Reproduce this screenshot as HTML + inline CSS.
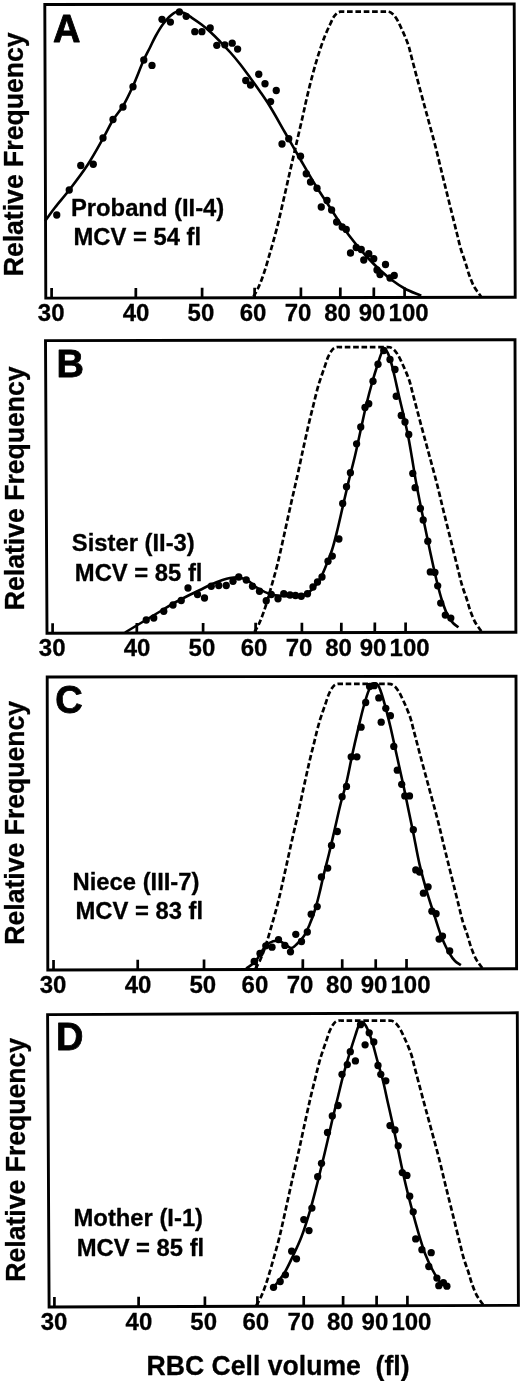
<!DOCTYPE html><html><head><meta charset="utf-8"><style>html,body{margin:0;padding:0;background:#fff;}svg{display:block;filter:grayscale(1);}text{font-family:"Liberation Sans",sans-serif;font-weight:bold;fill:#000;stroke:#000;stroke-width:0.3px;stroke-linejoin:round;white-space:pre;}</style></head><body>
<svg width="520" height="1381" viewBox="0 0 520 1381">
<rect width="520" height="1381" fill="#fff"/>
<g><polygon points="44.80,4.50 514.20,4.00 515.20,297.20 45.80,298.10" fill="none" stroke="#000" stroke-width="2.90" stroke-linejoin="miter"/><line x1="51.60" y1="298.09" x2="51.63" y2="288.09" stroke="#000" stroke-width="2.70"/><line x1="135.80" y1="297.93" x2="135.83" y2="287.93" stroke="#000" stroke-width="2.70"/><line x1="202.10" y1="297.80" x2="202.13" y2="287.80" stroke="#000" stroke-width="2.70"/><line x1="254.60" y1="297.70" x2="254.63" y2="287.70" stroke="#000" stroke-width="2.70"/><line x1="300.90" y1="297.61" x2="300.93" y2="287.61" stroke="#000" stroke-width="2.70"/><line x1="340.30" y1="297.54" x2="340.33" y2="287.54" stroke="#000" stroke-width="2.70"/><line x1="373.80" y1="297.47" x2="373.83" y2="287.47" stroke="#000" stroke-width="2.70"/><line x1="404.60" y1="297.41" x2="404.63" y2="287.41" stroke="#000" stroke-width="2.70"/><text x="51.20" y="321.00" font-size="24.00" text-anchor="middle">30</text><text x="136.10" y="321.00" font-size="24.00" text-anchor="middle">40</text><text x="200.90" y="321.00" font-size="24.00" text-anchor="middle">50</text><text x="253.00" y="321.00" font-size="24.00" text-anchor="middle">60</text><text x="298.10" y="321.00" font-size="24.00" text-anchor="middle">70</text><text x="337.50" y="321.00" font-size="24.00" text-anchor="middle">80</text><text x="372.10" y="321.00" font-size="24.00" text-anchor="middle">90</text><text x="408.60" y="321.00" font-size="24.00" text-anchor="middle">100</text><text transform="translate(22.60,154.40) rotate(-90) scale(1,1.040)" font-size="26.60" text-anchor="middle">Relative Frequency</text><text x="53.10" y="41.80" font-size="38.00" style="stroke-width:0.80px">A</text><text transform="translate(70.95,215.70) scale(1,1.040)" font-size="23.80" xml:space="preserve">Proband (II-4)</text><text transform="translate(73.55,245.40) scale(1,1.040)" font-size="23.80" xml:space="preserve">MCV = 54 fl</text><path d="M253.50,296.50 C254.83,294.13 256.14,292.23 257.50,289.40 C259.38,285.49 261.41,280.36 263.30,275.00 C265.60,268.46 267.81,260.44 270.00,252.90 C272.28,245.05 274.54,237.21 276.70,228.80 C279.05,219.65 281.25,209.70 283.50,200.00 C285.79,190.11 288.03,179.91 290.30,170.00 C292.53,160.25 294.85,150.31 297.00,141.00 C299.00,132.36 301.16,123.28 302.80,116.00 C304.07,110.37 304.85,106.41 306.10,101.00 C307.59,94.58 309.34,87.10 311.20,80.00 C313.13,72.61 315.24,64.79 317.50,57.50 C319.68,50.48 322.12,43.08 324.50,37.00 C326.47,31.98 328.73,27.25 330.50,23.50 C331.79,20.77 332.68,18.39 334.00,16.50 C335.07,14.98 336.28,13.60 337.50,12.80 C338.47,12.16 339.33,11.92 340.50,11.70 C342.04,11.41 343.94,11.62 346.00,11.60 C348.63,11.58 351.92,11.60 355.00,11.60 C358.25,11.60 361.67,11.60 365.00,11.60 C368.33,11.60 371.75,11.60 375.00,11.60 C378.08,11.60 381.44,11.55 384.00,11.60 C385.91,11.64 387.48,11.35 389.00,11.80 C390.47,12.24 391.77,13.09 393.00,14.20 C394.47,15.52 395.75,17.49 397.00,19.50 C398.45,21.84 399.71,24.78 401.00,27.50 C402.31,30.28 403.58,33.07 404.80,36.00 C406.08,39.06 407.41,42.15 408.50,45.50 C409.67,49.12 410.24,52.18 411.50,57.00 C413.64,65.17 417.38,79.46 420.20,90.00 C422.80,99.72 425.26,108.58 427.80,118.00 C430.39,127.58 433.14,137.40 435.60,147.00 C438.01,156.40 440.09,165.59 442.40,175.00 C444.75,184.58 447.20,194.33 449.60,204.00 C452.00,213.67 454.70,224.62 456.80,233.00 C458.41,239.42 459.55,244.80 461.10,250.00 C462.45,254.52 464.05,258.32 465.40,262.50 C466.75,266.65 467.75,270.96 469.20,275.00 C470.62,278.95 472.31,283.35 474.00,286.50 C475.28,288.90 476.74,290.72 478.00,292.50 C479.05,293.98 480.00,295.17 481.00,296.50" fill="none" stroke="#000" stroke-width="2.70" stroke-dasharray="5.6 2.7"/><path d="M45.00,221.00 C48.33,216.50 51.31,212.25 55.00,207.50 C59.27,202.00 64.30,196.42 69.25,190.00 C75.05,182.48 81.87,173.60 87.50,165.00 C93.11,156.43 98.46,146.58 103.00,138.50 C106.76,131.82 109.48,125.64 113.00,120.00 C116.18,114.90 119.86,111.22 123.00,106.00 C126.58,100.05 129.73,93.17 133.00,86.00 C136.67,77.96 140.53,67.05 143.75,60.00 C146.02,55.03 148.00,51.54 150.00,47.50 C151.87,43.72 153.34,40.23 155.40,36.50 C157.65,32.41 160.36,27.67 163.10,24.00 C165.53,20.74 168.15,17.56 170.80,15.40 C172.97,13.63 175.19,11.86 177.50,11.50 C179.67,11.16 181.97,12.09 184.20,13.00 C186.77,14.05 189.22,16.03 191.90,17.80 C194.95,19.81 198.35,22.08 201.50,24.50 C204.78,27.03 208.03,29.79 211.20,32.70 C214.47,35.71 217.62,39.03 220.80,42.30 C224.03,45.62 227.25,48.95 230.40,52.50 C233.66,56.17 236.83,59.96 240.00,64.00 C243.36,68.27 246.69,72.94 250.00,77.50 C253.35,82.11 256.70,86.73 260.00,91.50 C263.37,96.39 266.43,100.75 270.00,106.50 C274.61,113.92 280.01,123.81 285.00,132.50 C290.01,141.22 294.98,150.05 300.00,158.75 C304.98,167.39 309.89,176.22 315.00,184.50 C319.90,192.45 325.22,200.20 330.00,207.50 C334.35,214.14 338.23,220.46 342.50,226.50 C346.57,232.26 350.75,237.74 355.00,243.00 C359.09,248.06 363.25,252.92 367.50,257.50 C371.59,261.90 375.75,266.10 380.00,270.00 C384.09,273.75 388.24,277.32 392.50,280.50 C396.58,283.54 400.44,286.28 405.00,288.75 C409.96,291.43 415.83,293.45 421.25,295.80" fill="none" stroke="#000" stroke-width="2.60" stroke-linejoin="round"/><circle cx="56.75" cy="215.00" r="3.65"/><circle cx="69.25" cy="190.00" r="3.65"/><circle cx="80.75" cy="165.50" r="3.65"/><circle cx="93.25" cy="164.25" r="3.65"/><circle cx="103.00" cy="138.00" r="3.65"/><circle cx="113.00" cy="119.50" r="3.65"/><circle cx="123.00" cy="107.00" r="3.65"/><circle cx="133.00" cy="86.75" r="3.65"/><circle cx="143.80" cy="60.00" r="3.65"/><circle cx="152.00" cy="65.40" r="3.65"/><circle cx="162.00" cy="19.30" r="3.65"/><circle cx="170.40" cy="22.10" r="3.65"/><circle cx="179.40" cy="11.90" r="3.65"/><circle cx="186.20" cy="16.30" r="3.65"/><circle cx="194.80" cy="31.70" r="3.65"/><circle cx="201.90" cy="31.70" r="3.65"/><circle cx="210.20" cy="27.90" r="3.65"/><circle cx="216.80" cy="45.30" r="3.65"/><circle cx="224.80" cy="44.80" r="3.65"/><circle cx="232.20" cy="43.20" r="3.65"/><circle cx="237.60" cy="49.10" r="3.65"/><circle cx="245.75" cy="80.50" r="3.65"/><circle cx="250.50" cy="85.00" r="3.65"/><circle cx="258.75" cy="74.25" r="3.65"/><circle cx="265.00" cy="83.75" r="3.65"/><circle cx="276.25" cy="90.50" r="3.65"/><circle cx="270.60" cy="101.60" r="3.65"/><circle cx="282.00" cy="144.00" r="3.65"/><circle cx="288.75" cy="138.75" r="3.65"/><circle cx="300.50" cy="156.25" r="3.65"/><circle cx="306.25" cy="173.75" r="3.65"/><circle cx="310.50" cy="182.00" r="3.65"/><circle cx="317.00" cy="188.25" r="3.65"/><circle cx="327.00" cy="200.50" r="3.65"/><circle cx="321.25" cy="207.00" r="3.65"/><circle cx="331.60" cy="210.00" r="3.65"/><circle cx="336.60" cy="222.00" r="3.65"/><circle cx="342.20" cy="227.00" r="3.65"/><circle cx="346.25" cy="229.40" r="3.65"/><circle cx="350.50" cy="253.00" r="3.65"/><circle cx="356.25" cy="247.50" r="3.65"/><circle cx="361.25" cy="249.50" r="3.65"/><circle cx="368.75" cy="253.75" r="3.65"/><circle cx="363.75" cy="260.00" r="3.65"/><circle cx="373.75" cy="258.75" r="3.65"/><circle cx="377.00" cy="270.00" r="3.65"/><circle cx="380.00" cy="274.50" r="3.65"/><circle cx="385.50" cy="264.50" r="3.65"/><circle cx="390.00" cy="278.00" r="3.65"/><circle cx="394.25" cy="275.50" r="3.65"/></g>
<g><polygon points="45.50,340.60 515.00,339.80 515.90,632.30 47.00,633.20" fill="none" stroke="#000" stroke-width="2.90" stroke-linejoin="miter"/><line x1="52.60" y1="633.19" x2="52.63" y2="623.19" stroke="#000" stroke-width="2.70"/><line x1="136.80" y1="633.03" x2="136.83" y2="623.03" stroke="#000" stroke-width="2.70"/><line x1="203.10" y1="632.90" x2="203.13" y2="622.90" stroke="#000" stroke-width="2.70"/><line x1="255.60" y1="632.80" x2="255.63" y2="622.80" stroke="#000" stroke-width="2.70"/><line x1="301.90" y1="632.71" x2="301.93" y2="622.71" stroke="#000" stroke-width="2.70"/><line x1="341.30" y1="632.64" x2="341.33" y2="622.64" stroke="#000" stroke-width="2.70"/><line x1="374.80" y1="632.57" x2="374.83" y2="622.57" stroke="#000" stroke-width="2.70"/><line x1="405.60" y1="632.51" x2="405.63" y2="622.51" stroke="#000" stroke-width="2.70"/><text x="52.20" y="656.00" font-size="24.00" text-anchor="middle">30</text><text x="137.10" y="656.00" font-size="24.00" text-anchor="middle">40</text><text x="201.90" y="656.00" font-size="24.00" text-anchor="middle">50</text><text x="254.00" y="656.00" font-size="24.00" text-anchor="middle">60</text><text x="299.10" y="656.00" font-size="24.00" text-anchor="middle">70</text><text x="338.50" y="656.00" font-size="24.00" text-anchor="middle">80</text><text x="373.10" y="656.00" font-size="24.00" text-anchor="middle">90</text><text x="409.60" y="656.00" font-size="24.00" text-anchor="middle">100</text><text transform="translate(23.50,488.30) rotate(-90) scale(1,1.040)" font-size="26.60" text-anchor="middle">Relative Frequency</text><text x="56.60" y="377.10" font-size="38.00" style="stroke-width:0.80px">B</text><text transform="translate(71.80,551.00) scale(1,1.040)" font-size="23.80" xml:space="preserve">Sister (II-3)</text><text transform="translate(74.85,580.80) scale(1,1.040)" font-size="23.80" xml:space="preserve">MCV = 85 fl</text><path d="M254.50,632.00 C255.83,629.63 257.15,627.74 258.50,624.90 C260.36,620.99 262.34,615.85 264.20,610.50 C266.46,603.98 268.64,596.01 270.80,588.50 C273.05,580.69 275.29,572.90 277.40,564.50 C279.71,555.31 281.82,545.25 284.00,535.50 C286.22,525.59 288.38,515.41 290.60,505.50 C292.78,495.75 295.13,485.81 297.20,476.50 C299.12,467.86 301.03,458.70 302.60,451.50 C303.80,446.01 304.85,441.25 305.80,437.00 C306.54,433.67 307.08,431.23 307.80,428.10 C308.60,424.60 309.49,420.73 310.40,417.00 C311.32,413.20 312.35,409.34 313.30,405.50 C314.25,401.67 315.13,397.75 316.10,394.00 C317.03,390.39 317.99,386.75 319.00,383.40 C319.93,380.34 320.91,377.59 321.90,374.70 C322.88,371.82 323.90,368.98 324.90,366.10 C325.90,363.21 326.78,359.98 327.90,357.40 C328.85,355.20 329.87,353.14 331.00,351.50 C331.93,350.15 332.89,348.83 334.00,348.10 C334.92,347.49 335.91,347.28 337.00,347.10 C338.22,346.90 339.53,347.10 341.00,347.10 C342.80,347.10 344.80,347.10 347.00,347.10 C349.70,347.10 352.92,347.10 356.00,347.10 C359.25,347.10 362.67,347.10 366.00,347.10 C369.33,347.10 372.75,347.10 376.00,347.10 C379.08,347.10 382.44,347.05 385.00,347.10 C386.91,347.14 388.48,346.85 390.00,347.30 C391.47,347.74 392.77,348.59 394.00,349.70 C395.47,351.02 396.75,352.99 398.00,355.00 C399.45,357.34 400.71,360.28 402.00,363.00 C403.31,365.78 404.58,368.57 405.80,371.50 C407.08,374.56 408.41,377.65 409.50,381.00 C410.67,384.62 411.24,387.68 412.50,392.50 C414.64,400.67 418.38,414.96 421.20,425.50 C423.80,435.22 426.26,444.08 428.80,453.50 C431.39,463.08 434.14,472.90 436.60,482.50 C439.01,491.90 441.09,501.09 443.40,510.50 C445.75,520.08 448.20,529.83 450.60,539.50 C453.00,549.17 455.70,560.12 457.80,568.50 C459.41,574.92 460.55,580.30 462.10,585.50 C463.45,590.02 465.05,593.82 466.40,598.00 C467.75,602.15 468.75,606.46 470.20,610.50 C471.62,614.45 473.31,618.85 475.00,622.00 C476.28,624.40 477.74,626.22 479.00,628.00 C480.05,629.48 481.00,630.67 482.00,632.00" fill="none" stroke="#000" stroke-width="2.70" stroke-dasharray="5.6 2.7"/><path d="M125.00,632.50 C129.17,630.00 133.33,627.50 137.50,625.00 C141.67,622.50 145.83,620.00 150.00,617.50 C154.17,615.00 158.33,612.50 162.50,610.00 C166.67,607.50 170.80,604.85 175.00,602.50 C179.13,600.19 183.32,598.09 187.50,596.00 C191.65,593.93 196.07,591.92 200.00,590.00 C203.53,588.27 206.45,586.60 210.00,585.00 C213.90,583.25 218.83,581.22 222.50,580.00 C225.29,579.07 227.38,578.42 230.00,578.00 C232.78,577.55 235.87,577.10 238.75,577.50 C241.71,577.91 244.61,578.97 247.50,580.50 C250.86,582.28 253.86,585.79 257.50,588.00 C261.33,590.32 265.73,592.67 270.00,594.00 C274.08,595.27 278.32,595.67 282.50,596.00 C286.65,596.33 291.08,596.29 295.00,596.00 C298.53,595.74 302.08,595.68 305.00,594.50 C307.69,593.41 309.88,591.51 312.00,589.50 C314.24,587.38 316.24,584.62 318.00,582.00 C319.72,579.44 321.05,576.98 322.50,574.00 C324.23,570.45 325.91,566.01 327.50,562.00 C329.08,558.01 330.57,554.45 332.00,550.00 C333.73,544.62 335.26,538.44 336.90,531.90 C338.82,524.25 340.77,515.23 342.70,506.90 C344.63,498.57 346.46,490.38 348.50,481.90 C350.62,473.09 353.08,464.03 355.20,455.00 C357.33,445.90 359.32,436.21 361.25,427.50 C362.99,419.62 364.41,412.58 366.25,405.00 C368.15,397.17 370.46,388.40 372.50,381.25 C374.20,375.30 375.83,370.10 377.50,365.00 C379.00,360.41 380.48,354.81 382.00,352.00 C382.83,350.46 383.62,348.76 384.50,348.75 C385.45,348.74 386.58,350.87 387.50,352.50 C388.84,354.87 389.92,358.50 391.00,362.00 C392.29,366.18 393.31,370.97 394.50,376.00 C395.88,381.84 397.25,388.51 398.75,395.00 C400.33,401.83 402.14,408.91 403.75,416.00 C405.39,423.24 407.10,430.83 408.50,438.00 C409.83,444.81 410.81,451.03 412.00,458.00 C413.30,465.63 414.57,474.10 416.00,482.00 C417.41,489.76 418.98,497.42 420.50,505.00 C421.98,512.42 423.45,519.51 425.00,527.00 C426.62,534.83 428.23,542.77 430.00,551.00 C431.88,559.74 433.88,569.33 436.00,578.00 C437.99,586.13 439.98,594.54 442.30,601.50 C444.22,607.27 446.25,613.05 448.50,617.00 C450.08,619.77 451.71,621.72 453.50,623.50 C455.07,625.06 456.83,626.03 458.50,627.30" fill="none" stroke="#000" stroke-width="2.60" stroke-linejoin="round"/><circle cx="146.25" cy="620.00" r="3.65"/><circle cx="153.75" cy="618.00" r="3.65"/><circle cx="163.75" cy="611.25" r="3.65"/><circle cx="173.00" cy="605.00" r="3.65"/><circle cx="181.25" cy="600.50" r="3.65"/><circle cx="188.00" cy="588.00" r="3.65"/><circle cx="197.50" cy="594.50" r="3.65"/><circle cx="204.50" cy="598.00" r="3.65"/><circle cx="211.25" cy="586.25" r="3.65"/><circle cx="218.75" cy="585.50" r="3.65"/><circle cx="226.25" cy="585.50" r="3.65"/><circle cx="233.00" cy="581.25" r="3.65"/><circle cx="238.75" cy="577.00" r="3.65"/><circle cx="246.25" cy="580.00" r="3.65"/><circle cx="252.50" cy="586.25" r="3.65"/><circle cx="259.50" cy="591.25" r="3.65"/><circle cx="266.25" cy="600.75" r="3.65"/><circle cx="271.25" cy="594.50" r="3.65"/><circle cx="278.00" cy="598.75" r="3.65"/><circle cx="283.75" cy="593.75" r="3.65"/><circle cx="290.00" cy="595.00" r="3.65"/><circle cx="295.50" cy="595.50" r="3.65"/><circle cx="301.25" cy="596.25" r="3.65"/><circle cx="307.50" cy="593.75" r="3.65"/><circle cx="313.00" cy="587.00" r="3.65"/><circle cx="317.50" cy="582.00" r="3.65"/><circle cx="322.00" cy="577.00" r="3.65"/><circle cx="328.00" cy="561.25" r="3.65"/><circle cx="332.30" cy="556.10" r="3.65"/><circle cx="338.90" cy="539.00" r="3.65"/><circle cx="342.70" cy="503.50" r="3.65"/><circle cx="346.50" cy="486.70" r="3.65"/><circle cx="350.40" cy="472.70" r="3.65"/><circle cx="356.60" cy="443.80" r="3.65"/><circle cx="360.75" cy="427.00" r="3.65"/><circle cx="365.00" cy="407.50" r="3.65"/><circle cx="368.75" cy="403.75" r="3.65"/><circle cx="373.00" cy="381.25" r="3.65"/><circle cx="378.00" cy="364.25" r="3.65"/><circle cx="383.75" cy="350.50" r="3.65"/><circle cx="390.00" cy="359.50" r="3.65"/><circle cx="395.00" cy="369.50" r="3.65"/><circle cx="396.25" cy="396.25" r="3.65"/><circle cx="401.25" cy="415.50" r="3.65"/><circle cx="405.00" cy="422.00" r="3.65"/><circle cx="408.75" cy="434.50" r="3.65"/><circle cx="412.80" cy="473.40" r="3.65"/><circle cx="415.10" cy="487.70" r="3.65"/><circle cx="420.40" cy="508.50" r="3.65"/><circle cx="423.20" cy="520.00" r="3.65"/><circle cx="427.80" cy="541.20" r="3.65"/><circle cx="430.30" cy="571.90" r="3.65"/><circle cx="434.90" cy="572.40" r="3.65"/><circle cx="437.70" cy="585.80" r="3.65"/><circle cx="440.70" cy="603.10" r="3.65"/><circle cx="445.30" cy="615.10" r="3.65"/><circle cx="450.80" cy="618.10" r="3.65"/></g>
<g><polygon points="47.20,677.00 516.00,676.20 516.60,968.80 47.80,970.00" fill="none" stroke="#000" stroke-width="2.90" stroke-linejoin="miter"/><line x1="53.50" y1="969.99" x2="53.53" y2="959.99" stroke="#000" stroke-width="2.70"/><line x1="137.70" y1="969.77" x2="137.73" y2="959.77" stroke="#000" stroke-width="2.70"/><line x1="204.00" y1="969.60" x2="204.03" y2="959.60" stroke="#000" stroke-width="2.70"/><line x1="256.50" y1="969.47" x2="256.53" y2="959.47" stroke="#000" stroke-width="2.70"/><line x1="302.80" y1="969.35" x2="302.83" y2="959.35" stroke="#000" stroke-width="2.70"/><line x1="342.20" y1="969.25" x2="342.23" y2="959.25" stroke="#000" stroke-width="2.70"/><line x1="375.70" y1="969.16" x2="375.73" y2="959.16" stroke="#000" stroke-width="2.70"/><line x1="406.50" y1="969.08" x2="406.53" y2="959.08" stroke="#000" stroke-width="2.70"/><text x="53.10" y="993.20" font-size="24.00" text-anchor="middle">30</text><text x="138.00" y="993.20" font-size="24.00" text-anchor="middle">40</text><text x="202.80" y="993.20" font-size="24.00" text-anchor="middle">50</text><text x="254.90" y="993.20" font-size="24.00" text-anchor="middle">60</text><text x="300.00" y="993.20" font-size="24.00" text-anchor="middle">70</text><text x="339.40" y="993.20" font-size="24.00" text-anchor="middle">80</text><text x="374.00" y="993.20" font-size="24.00" text-anchor="middle">90</text><text x="410.50" y="993.20" font-size="24.00" text-anchor="middle">100</text><text transform="translate(24.00,822.80) rotate(-90) scale(1,1.040)" font-size="26.60" text-anchor="middle">Relative Frequency</text><text x="55.20" y="712.60" font-size="38.00" style="stroke-width:0.80px">C</text><text transform="translate(72.55,890.00) scale(1,1.040)" font-size="23.80" xml:space="preserve">Niece (III-7)</text><text transform="translate(75.45,919.00) scale(1,1.040)" font-size="23.80" xml:space="preserve">MCV = 83 fl</text><path d="M255.40,968.80 C256.73,966.43 258.05,964.54 259.40,961.70 C261.26,957.79 263.24,952.65 265.10,947.30 C267.36,940.78 269.54,932.81 271.70,925.30 C273.95,917.49 276.19,909.70 278.30,901.30 C280.61,892.11 282.72,882.05 284.90,872.30 C287.12,862.39 289.28,852.21 291.50,842.30 C293.68,832.55 296.03,822.61 298.10,813.30 C300.02,804.66 301.93,795.50 303.50,788.30 C304.70,782.81 305.75,778.05 306.70,773.80 C307.44,770.47 307.98,768.03 308.70,764.90 C309.50,761.40 310.39,757.53 311.30,753.80 C312.22,750.00 313.25,746.14 314.20,742.30 C315.15,738.47 316.03,734.55 317.00,730.80 C317.93,727.19 318.89,723.55 319.90,720.20 C320.83,717.14 321.81,714.39 322.80,711.50 C323.78,708.62 324.80,705.78 325.80,702.90 C326.80,700.01 327.68,696.78 328.80,694.20 C329.75,692.00 330.77,689.94 331.90,688.30 C332.83,686.95 333.79,685.63 334.90,684.90 C335.82,684.29 336.81,684.08 337.90,683.90 C339.12,683.70 340.43,683.90 341.90,683.90 C343.70,683.90 345.70,683.90 347.90,683.90 C350.60,683.90 353.82,683.90 356.90,683.90 C360.15,683.90 363.57,683.90 366.90,683.90 C370.23,683.90 373.65,683.90 376.90,683.90 C379.98,683.90 383.34,683.85 385.90,683.90 C387.81,683.94 389.38,683.65 390.90,684.10 C392.37,684.54 393.67,685.39 394.90,686.50 C396.37,687.82 397.65,689.79 398.90,691.80 C400.35,694.14 401.61,697.08 402.90,699.80 C404.21,702.58 405.48,705.37 406.70,708.30 C407.98,711.36 409.31,714.45 410.40,717.80 C411.57,721.42 412.14,724.48 413.40,729.30 C415.54,737.47 419.28,751.76 422.10,762.30 C424.70,772.02 427.16,780.88 429.70,790.30 C432.29,799.88 435.04,809.70 437.50,819.30 C439.91,828.70 441.99,837.89 444.30,847.30 C446.65,856.88 449.10,866.63 451.50,876.30 C453.90,885.97 456.60,896.92 458.70,905.30 C460.31,911.72 461.45,917.10 463.00,922.30 C464.35,926.82 465.95,930.62 467.30,934.80 C468.65,938.95 469.65,943.26 471.10,947.30 C472.52,951.25 474.21,955.65 475.90,958.80 C477.18,961.20 478.64,963.02 479.90,964.80 C480.95,966.28 481.90,967.47 482.90,968.80" fill="none" stroke="#000" stroke-width="2.70" stroke-dasharray="5.6 2.7"/><path d="M246.20,968.50 C249.27,966.17 252.77,964.38 255.40,961.50 C258.19,958.45 259.84,953.72 262.30,950.50 C264.48,947.65 266.44,944.61 269.20,943.00 C271.87,941.44 275.69,940.43 278.50,940.80 C281.04,941.13 283.21,943.26 285.40,944.50 C287.43,945.66 289.30,948.07 291.20,948.00 C293.13,947.93 295.01,945.69 296.90,944.00 C299.21,941.93 301.77,939.21 303.80,936.20 C306.07,932.84 307.78,928.84 309.60,924.60 C311.69,919.73 313.73,913.85 315.40,908.50 C317.01,903.32 318.19,898.33 319.50,893.00 C320.89,887.36 322.01,881.69 323.50,875.50 C325.20,868.46 327.33,860.71 329.20,853.00 C331.17,844.90 333.07,836.33 335.00,828.00 C336.93,819.67 338.79,810.93 340.80,803.00 C342.64,795.73 344.70,789.66 346.50,782.20 C348.56,773.66 350.33,763.52 352.30,754.50 C354.19,745.84 356.14,737.36 358.10,729.10 C359.97,721.21 361.81,712.96 363.80,706.00 C365.47,700.15 367.18,693.86 369.00,690.00 C370.13,687.60 371.19,685.56 372.50,684.50 C373.40,683.77 374.48,683.31 375.40,683.40 C376.31,683.49 377.22,684.10 378.00,685.00 C379.23,686.42 379.97,689.14 381.00,692.00 C382.54,696.27 384.27,702.68 385.80,708.30 C387.42,714.25 388.91,720.45 390.40,726.80 C391.98,733.50 393.47,740.59 395.00,747.50 C396.54,754.42 398.07,761.37 399.60,768.30 C401.13,775.23 402.72,782.15 404.20,789.10 C405.68,796.05 407.02,802.88 408.50,810.00 C410.05,817.46 411.61,824.64 413.30,832.90 C415.28,842.60 417.23,854.45 419.60,864.60 C421.83,874.13 424.43,883.34 427.00,892.10 C429.38,900.22 431.90,907.75 434.40,915.40 C436.84,922.87 439.11,930.86 441.80,937.50 C444.11,943.20 446.69,948.77 449.20,953.00 C451.11,956.21 452.87,958.91 455.00,961.00 C456.82,962.78 458.93,963.73 460.90,965.10" fill="none" stroke="#000" stroke-width="2.60" stroke-linejoin="round"/><circle cx="254.20" cy="961.50" r="3.65"/><circle cx="260.00" cy="953.50" r="3.65"/><circle cx="265.80" cy="945.80" r="3.65"/><circle cx="272.00" cy="947.20" r="3.65"/><circle cx="278.50" cy="939.60" r="3.65"/><circle cx="284.90" cy="945.40" r="3.65"/><circle cx="290.50" cy="951.80" r="3.65"/><circle cx="295.80" cy="934.30" r="3.65"/><circle cx="301.50" cy="941.50" r="3.65"/><circle cx="307.30" cy="932.00" r="3.65"/><circle cx="311.20" cy="914.20" r="3.65"/><circle cx="317.20" cy="906.60" r="3.65"/><circle cx="321.40" cy="877.00" r="3.65"/><circle cx="327.70" cy="868.10" r="3.65"/><circle cx="331.50" cy="845.40" r="3.65"/><circle cx="337.30" cy="831.50" r="3.65"/><circle cx="342.10" cy="796.70" r="3.65"/><circle cx="346.50" cy="786.40" r="3.65"/><circle cx="351.20" cy="756.80" r="3.65"/><circle cx="356.90" cy="756.80" r="3.65"/><circle cx="361.10" cy="727.20" r="3.65"/><circle cx="365.70" cy="702.50" r="3.65"/><circle cx="369.60" cy="686.40" r="3.65"/><circle cx="374.20" cy="685.70" r="3.65"/><circle cx="378.80" cy="697.90" r="3.65"/><circle cx="381.20" cy="722.20" r="3.65"/><circle cx="385.80" cy="708.30" r="3.65"/><circle cx="390.40" cy="715.70" r="3.65"/><circle cx="393.80" cy="746.40" r="3.65"/><circle cx="397.30" cy="770.20" r="3.65"/><circle cx="401.70" cy="784.30" r="3.65"/><circle cx="404.80" cy="795.90" r="3.65"/><circle cx="409.50" cy="795.90" r="3.65"/><circle cx="413.30" cy="829.70" r="3.65"/><circle cx="415.80" cy="869.90" r="3.65"/><circle cx="419.60" cy="872.00" r="3.65"/><circle cx="428.10" cy="886.80" r="3.65"/><circle cx="423.40" cy="893.20" r="3.65"/><circle cx="431.90" cy="911.20" r="3.65"/><circle cx="436.10" cy="913.70" r="3.65"/><circle cx="439.10" cy="939.10" r="3.65"/><circle cx="442.50" cy="936.10" r="3.65"/><circle cx="449.70" cy="950.90" r="3.65"/></g>
<g><polygon points="47.60,1014.60 517.30,1012.80 518.40,1305.30 49.10,1307.00" fill="none" stroke="#000" stroke-width="2.90" stroke-linejoin="miter"/><line x1="54.40" y1="1306.98" x2="54.43" y2="1296.98" stroke="#000" stroke-width="2.70"/><line x1="138.60" y1="1306.68" x2="138.63" y2="1296.68" stroke="#000" stroke-width="2.70"/><line x1="204.90" y1="1306.44" x2="204.93" y2="1296.44" stroke="#000" stroke-width="2.70"/><line x1="257.40" y1="1306.25" x2="257.43" y2="1296.25" stroke="#000" stroke-width="2.70"/><line x1="303.70" y1="1306.08" x2="303.73" y2="1296.08" stroke="#000" stroke-width="2.70"/><line x1="343.10" y1="1305.94" x2="343.13" y2="1295.94" stroke="#000" stroke-width="2.70"/><line x1="376.60" y1="1305.81" x2="376.63" y2="1295.81" stroke="#000" stroke-width="2.70"/><line x1="407.40" y1="1305.70" x2="407.43" y2="1295.70" stroke="#000" stroke-width="2.70"/><text x="54.00" y="1330.40" font-size="24.00" text-anchor="middle">30</text><text x="138.90" y="1330.40" font-size="24.00" text-anchor="middle">40</text><text x="203.70" y="1330.40" font-size="24.00" text-anchor="middle">50</text><text x="255.80" y="1330.40" font-size="24.00" text-anchor="middle">60</text><text x="300.90" y="1330.40" font-size="24.00" text-anchor="middle">70</text><text x="340.30" y="1330.40" font-size="24.00" text-anchor="middle">80</text><text x="374.90" y="1330.40" font-size="24.00" text-anchor="middle">90</text><text x="411.40" y="1330.40" font-size="24.00" text-anchor="middle">100</text><text transform="translate(25.40,1159.80) rotate(-90) scale(1,1.040)" font-size="26.60" text-anchor="middle">Relative Frequency</text><text x="56.00" y="1050.10" font-size="38.00" style="stroke-width:0.80px">D</text><text transform="translate(73.55,1225.70) scale(1,1.040)" font-size="23.80" xml:space="preserve">Mother (I-1)</text><text transform="translate(76.65,1255.50) scale(1,1.040)" font-size="23.80" xml:space="preserve">MCV = 85 fl</text><path d="M256.30,1305.50 C257.63,1303.13 258.95,1301.24 260.30,1298.40 C262.16,1294.49 264.14,1289.35 266.00,1284.00 C268.26,1277.48 270.44,1269.51 272.60,1262.00 C274.85,1254.19 277.09,1246.40 279.20,1238.00 C281.51,1228.81 283.62,1218.75 285.80,1209.00 C288.02,1199.09 290.18,1188.91 292.40,1179.00 C294.58,1169.25 296.93,1159.31 299.00,1150.00 C300.92,1141.36 302.83,1132.20 304.40,1125.00 C305.60,1119.51 306.65,1114.75 307.60,1110.50 C308.34,1107.17 308.88,1104.73 309.60,1101.60 C310.40,1098.10 311.29,1094.23 312.20,1090.50 C313.12,1086.70 314.15,1082.84 315.10,1079.00 C316.05,1075.17 316.93,1071.25 317.90,1067.50 C318.83,1063.89 319.79,1060.25 320.80,1056.90 C321.73,1053.84 322.71,1051.09 323.70,1048.20 C324.68,1045.32 325.70,1042.48 326.70,1039.60 C327.70,1036.71 328.58,1033.48 329.70,1030.90 C330.65,1028.70 331.67,1026.64 332.80,1025.00 C333.73,1023.65 334.69,1022.33 335.80,1021.60 C336.72,1020.99 337.71,1020.78 338.80,1020.60 C340.02,1020.40 341.33,1020.60 342.80,1020.60 C344.60,1020.60 346.60,1020.60 348.80,1020.60 C351.50,1020.60 354.72,1020.60 357.80,1020.60 C361.05,1020.60 364.47,1020.60 367.80,1020.60 C371.13,1020.60 374.55,1020.60 377.80,1020.60 C380.88,1020.60 384.24,1020.55 386.80,1020.60 C388.71,1020.64 390.28,1020.35 391.80,1020.80 C393.27,1021.24 394.57,1022.09 395.80,1023.20 C397.27,1024.52 398.55,1026.49 399.80,1028.50 C401.25,1030.84 402.51,1033.78 403.80,1036.50 C405.11,1039.28 406.38,1042.07 407.60,1045.00 C408.88,1048.06 410.21,1051.15 411.30,1054.50 C412.47,1058.12 413.04,1061.18 414.30,1066.00 C416.44,1074.17 420.18,1088.46 423.00,1099.00 C425.60,1108.72 428.06,1117.58 430.60,1127.00 C433.19,1136.58 435.94,1146.40 438.40,1156.00 C440.81,1165.40 442.89,1174.59 445.20,1184.00 C447.55,1193.58 450.00,1203.33 452.40,1213.00 C454.80,1222.67 457.50,1233.62 459.60,1242.00 C461.21,1248.42 462.35,1253.80 463.90,1259.00 C465.25,1263.52 466.85,1267.32 468.20,1271.50 C469.55,1275.65 470.55,1279.96 472.00,1284.00 C473.42,1287.95 475.11,1292.35 476.80,1295.50 C478.08,1297.90 479.54,1299.72 480.80,1301.50 C481.85,1302.98 482.80,1304.17 483.80,1305.50" fill="none" stroke="#000" stroke-width="2.70" stroke-dasharray="5.6 2.7"/><path d="M273.50,1287.30 C275.10,1285.37 276.62,1283.71 278.30,1281.50 C280.40,1278.74 282.82,1275.57 285.00,1271.90 C287.64,1267.45 290.12,1261.95 292.70,1256.50 C295.55,1250.48 298.67,1244.06 301.30,1237.30 C304.13,1230.02 306.62,1222.09 309.00,1214.20 C311.46,1206.07 313.68,1197.37 315.80,1189.20 C317.83,1181.39 319.59,1174.05 321.50,1166.20 C323.49,1158.00 325.61,1149.12 327.50,1141.00 C329.26,1133.42 330.75,1126.39 332.50,1119.00 C334.28,1111.46 336.22,1103.82 338.10,1096.20 C339.99,1088.55 341.81,1080.55 343.80,1073.20 C345.65,1066.36 347.64,1059.95 349.60,1053.50 C351.50,1047.25 353.74,1040.16 355.40,1035.10 C356.57,1031.53 357.48,1028.31 358.50,1026.00 C359.17,1024.49 359.67,1023.01 360.50,1022.40 C361.09,1021.97 361.82,1021.77 362.50,1022.00 C363.57,1022.36 364.70,1024.01 365.80,1025.80 C367.70,1028.88 369.73,1034.54 371.50,1039.70 C373.62,1045.88 375.36,1053.58 377.30,1060.50 C379.23,1067.41 381.36,1074.27 383.10,1081.20 C384.83,1088.10 386.18,1095.23 387.70,1102.00 C389.15,1108.48 390.49,1114.12 392.00,1121.00 C393.79,1129.14 395.71,1138.38 397.70,1147.70 C399.89,1157.95 402.21,1169.67 404.60,1180.00 C406.82,1189.61 409.13,1198.68 411.50,1207.70 C413.77,1216.36 416.09,1225.02 418.50,1233.10 C420.73,1240.56 422.89,1248.07 425.40,1254.50 C427.55,1260.01 429.87,1264.89 432.30,1269.50 C434.49,1273.65 436.98,1278.26 439.20,1281.00 C440.67,1282.81 442.07,1283.67 443.50,1285.00" fill="none" stroke="#000" stroke-width="2.60" stroke-linejoin="round"/><circle cx="273.50" cy="1287.30" r="3.65"/><circle cx="280.20" cy="1281.50" r="3.65"/><circle cx="285.40" cy="1274.80" r="3.65"/><circle cx="291.70" cy="1251.20" r="3.65"/><circle cx="296.50" cy="1258.80" r="3.65"/><circle cx="303.80" cy="1219.60" r="3.65"/><circle cx="309.00" cy="1230.60" r="3.65"/><circle cx="311.90" cy="1208.10" r="3.65"/><circle cx="317.70" cy="1176.70" r="3.65"/><circle cx="321.50" cy="1163.30" r="3.65"/><circle cx="327.50" cy="1132.50" r="3.65"/><circle cx="332.30" cy="1115.90" r="3.65"/><circle cx="338.10" cy="1105.50" r="3.65"/><circle cx="342.00" cy="1074.30" r="3.65"/><circle cx="347.30" cy="1064.60" r="3.65"/><circle cx="350.30" cy="1051.70" r="3.65"/><circle cx="355.40" cy="1060.90" r="3.65"/><circle cx="360.50" cy="1024.70" r="3.65"/><circle cx="365.10" cy="1044.80" r="3.65"/><circle cx="369.20" cy="1032.80" r="3.65"/><circle cx="373.80" cy="1042.00" r="3.65"/><circle cx="378.00" cy="1065.50" r="3.65"/><circle cx="380.80" cy="1074.30" r="3.65"/><circle cx="385.80" cy="1080.80" r="3.65"/><circle cx="390.00" cy="1125.60" r="3.65"/><circle cx="395.00" cy="1130.00" r="3.65"/><circle cx="398.20" cy="1145.80" r="3.65"/><circle cx="402.30" cy="1172.60" r="3.65"/><circle cx="406.90" cy="1175.40" r="3.65"/><circle cx="409.70" cy="1196.20" r="3.65"/><circle cx="413.20" cy="1211.80" r="3.65"/><circle cx="415.70" cy="1238.90" r="3.65"/><circle cx="421.90" cy="1249.70" r="3.65"/><circle cx="431.20" cy="1252.70" r="3.65"/><circle cx="428.80" cy="1266.50" r="3.65"/><circle cx="436.90" cy="1278.10" r="3.65"/><circle cx="438.80" cy="1285.70" r="3.65"/><circle cx="443.40" cy="1282.70" r="3.65"/><circle cx="446.90" cy="1286.20" r="3.65"/></g>
<text transform="translate(146.6,1374.6) scale(1,1.040)" font-size="26.60" xml:space="preserve">RBC Cell volume  (fl)</text>
</svg></body></html>
